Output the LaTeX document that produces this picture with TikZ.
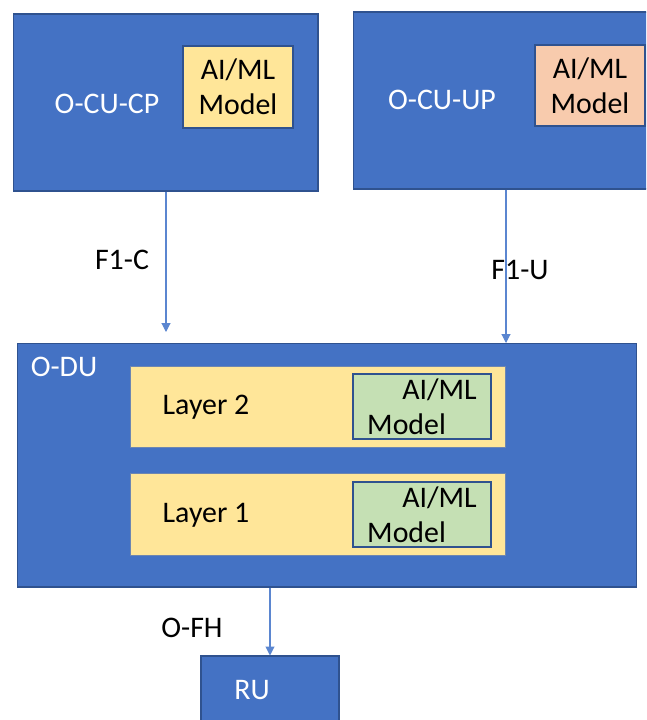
\documentclass[tikz,border=0pt]{standalone}
\usepackage{fontspec}
\setmainfont{Carlito}
\usetikzlibrary{arrows.meta}
\definecolor{oranblue}{HTML}{4472C4}
\definecolor{oranedge}{HTML}{2F528F}
\definecolor{modelyellow}{HTML}{FFE699}
\definecolor{modelpeach}{HTML}{F8CBAD}
\definecolor{modelgreen}{HTML}{C5E0B4}
\definecolor{linkblue}{HTML}{5B86D0}

\begin{document}
\begin{tikzpicture}[x=0.02cm, y=-0.02cm,
    font=\fontsize{17}{20}\selectfont,
    unit/.style={rectangle, draw=oranedge, line width=0.6pt, fill=oranblue, inner sep=0pt},
    model/.style={rectangle, draw=oranedge, line width=0.6pt, inner sep=0pt, text=black},
    layerbox/.style={rectangle, draw=oranedge!70, line width=0.5pt, fill=modelyellow, inner sep=0pt},
    whitetext/.style={text=white, inner sep=0pt},
    ifname/.style={text=black, inner sep=0pt},
    link/.style={draw=linkblue, line width=0.6pt, -{Triangle[width=5pt,length=5pt]}}]
    \clip (0,0) rectangle (646,720);
    \fill[white] (0,0) rectangle (646,720);

    \node[unit, minimum width=6.1cm, minimum height=3.54cm] (cucp) at (165.5,102.5) {};
    \node[whitetext] (cucplabel) at (107,104) {O-CU-CP};
    \node[model, fill=modelyellow, align=center, minimum width=2.2cm, minimum height=1.64cm] (cpmodel) at (238,87) {AI/ML\\Model};

    \node[unit, minimum width=6.14cm, minimum height=3.54cm] (cuup) at (506.5,100.5) {};
    \node[whitetext] (cuuplabel) at (442,100) {O-CU-UP};
    \node[model, fill=modelpeach, align=center, minimum width=2.2cm, minimum height=1.62cm] (upmodel) at (590,85.5) {AI/ML\\Model};

    \node[unit, minimum width=12.4cm, minimum height=4.88cm] (odu) at (327,465) {};
    \node[whitetext] (odulabel) at (64,367) {O-DU};

    \node[layerbox, minimum width=7.5cm, minimum height=1.62cm] (layer2) at (317.5,406.5) {};
    \node[ifname] (layer2label) at (206,407) {Layer 2};
    \node[model, fill=modelgreen, align=left, minimum width=2.76cm, minimum height=1.3cm] (l2model) at (422,406.5) {\hspace*{20pt}AI/ML\\Model};

    \node[layerbox, minimum width=7.5cm, minimum height=1.64cm] (layer1) at (317.5,514) {};
    \node[ifname] (layer1label) at (206,515) {Layer 1};
    \node[model, fill=modelgreen, align=left, minimum width=2.76cm, minimum height=1.3cm] (l1model) at (422,514.5) {\hspace*{20pt}AI/ML\\Model};

    \node[unit, minimum width=2.76cm, minimum height=1.68cm] (ru) at (270,698) {};
    \node[whitetext] (rulabel) at (252,690) {RU};

    \coordinate (f1ctip) at (166,332);
    \coordinate (f1utip) at (506,343);
    \draw[link] (cucp.south -| f1ctip) -- (f1ctip);
    \draw[link] (cuup.south -| f1utip) -- (f1utip);
    \draw[link] (odu.south -| ru.north) -- (ru.north);

    \node[ifname] (f1clabel) at (122,260) {F1-C};
    \node[ifname] (f1ulabel) at (520,270) {F1-U};
    \node[ifname] (ofhlabel) at (192,628) {O-FH};
\end{tikzpicture}
\end{document}
